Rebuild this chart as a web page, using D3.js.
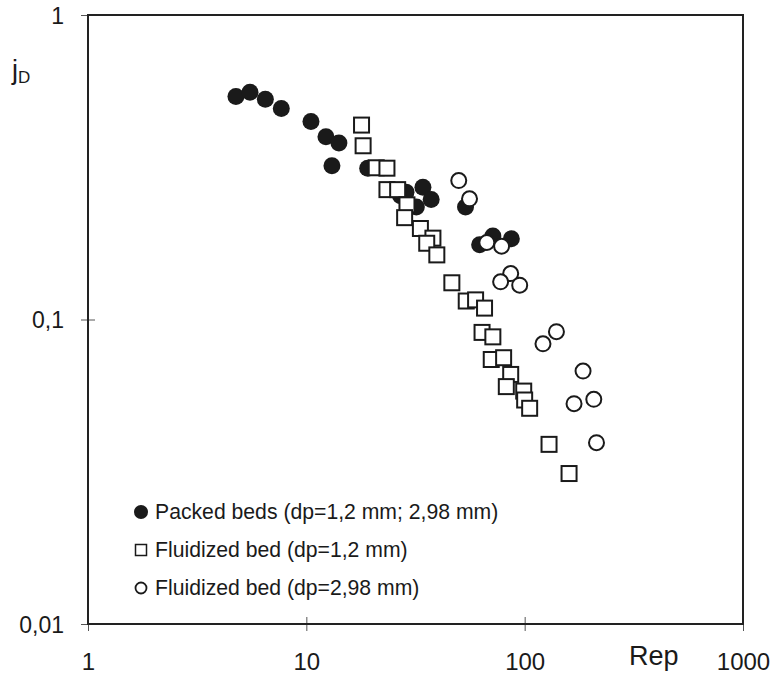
<!DOCTYPE html>
<html>
<head>
<meta charset="utf-8">
<script src="https://cdn.jsdelivr.net/npm/d3@7"></script>
<style>
  body { margin: 0; background: #fff; }
  text { font-family: "Liberation Sans", Arial, sans-serif; fill: #1a1a1a; }
</style>
</head>
<body>
<div id="chart"></div>
<script>
// packed beds (filled circles)
var packedRe = [4.76, 5.52, 6.49, 7.68, 10.5, 12.3, 14.1, 13.1, 19.1, 27.0, 28.6, 34.2, 37.3, 31.9, 53.6, 62.2, 71.5, 86.9];
var packedJ  = [0.540, 0.558, 0.529, 0.493, 0.447, 0.398, 0.380, 0.320, 0.314, 0.255, 0.262, 0.272, 0.248, 0.234, 0.234, 0.176, 0.188, 0.184];

// fluidized bed dp=1,2 mm (open squares)
var fluid12Re = [17.9, 18.2, 20.9, 23.4, 23.4, 26.2, 28.9, 28.2, 33.3, 38.0, 35.6, 39.6, 46.4, 54.0, 59.6, 65.5, 63.8, 71.5, 70.3, 80.1, 86.3, 82.4, 99.0, 100, 105.4, 129.3, 159.7];
var fluid12J  = [0.435, 0.372, 0.315, 0.314, 0.267, 0.267, 0.238, 0.216, 0.199, 0.185, 0.178, 0.163, 0.132, 0.115, 0.116, 0.109, 0.0907, 0.0877, 0.0739, 0.0749, 0.0660, 0.0602, 0.0582, 0.0544, 0.0511, 0.0389, 0.0312];

// fluidized bed dp=2,98 mm (open circles)
var fluid298Re = [49.9, 55.9, 67.1, 78.4, 86.3, 77.6, 94.9, 139.8, 121.3, 185.1, 168.3, 207.3, 213.3];
var fluid298J  = [0.286, 0.249, 0.179, 0.174, 0.1415, 0.133, 0.1296, 0.0912, 0.0832, 0.0677, 0.0529, 0.0547, 0.0394];

var xTicks = [1, 10, 100, 1000];
var xTickLabels = ["1", "10", "100", "1000"];
var yTicks = [0.01, 0.1, 1];
var yTickLabels = ["0,01", "0,1", "1"];

var legendLabels = ["Packed beds (dp=1,2 mm; 2,98 mm)", "Fluidized bed (dp=1,2 mm)", "Fluidized bed (dp=2,98 mm)"];

var W = 774, H = 676;
var margin = {left: 88, right: 743, top: 15, bottom: 624};
var ink = "#1a1a1a";

var svg = d3.select("#chart").append("svg")
    .attr("width", W)
    .attr("height", H);

var x = d3.scaleLog().domain([1, 1000]).range([margin.left, margin.right]);
var y = d3.scaleLog().domain([0.01, 1]).range([margin.bottom, margin.top]);

function zip(a, b) {
    return a.map(function (v, i) { return {x: v, y: b[i]}; });
}

// x axis (ticks cross the line)
var xAxis = svg.append("g")
    .attr("transform", "translate(0," + margin.bottom + ")")
    .call(d3.axisBottom(x).tickValues(xTicks).tickSize(7)
        .tickFormat(function (d, i) { return xTickLabels[i]; }));
xAxis.select(".domain").remove();
xAxis.selectAll(".tick line").attr("y1", -7).attr("stroke", "#555").attr("stroke-width", 1);
xAxis.selectAll(".tick text")
    .attr("y", 46).attr("dy", 0)
    .attr("font-size", 24)
    .attr("font-family", "Liberation Sans, Arial, sans-serif")
    .attr("fill", ink);

// y axis
var yAxis = svg.append("g")
    .attr("transform", "translate(" + margin.left + ",0)")
    .call(d3.axisLeft(y).tickValues(yTicks).tickSize(7)
        .tickFormat(function (d, i) { return yTickLabels[i]; }));
yAxis.select(".domain").remove();
yAxis.selectAll(".tick line").attr("x1", -7).attr("x2", 7).attr("stroke", "#555").attr("stroke-width", 1);
yAxis.selectAll(".tick text")
    .attr("x", -24).attr("dy", "0.36em")
    .attr("font-size", 23)
    .attr("font-family", "Liberation Sans, Arial, sans-serif")
    .attr("fill", ink);

// frame
svg.append("rect")
    .attr("x", margin.left).attr("y", margin.top)
    .attr("width", margin.right - margin.left).attr("height", margin.bottom - margin.top)
    .attr("fill", "none")
    .attr("stroke", "#222")
    .attr("stroke-width", 2);

// axis titles
var jd = svg.append("text").attr("x", 12).attr("y", 79).attr("font-size", 27);
jd.append("tspan").text("j");
jd.append("tspan").attr("font-size", 17).attr("dy", 4).text("D");

svg.append("text")
    .attr("x", 629).attr("y", 665)
    .attr("font-size", 27)
    .text("Rep");

// series
svg.append("g").selectAll("circle")
    .data(zip(packedRe, packedJ))
    .enter().append("circle")
    .attr("cx", function (d) { return x(d.x); })
    .attr("cy", function (d) { return y(d.y); })
    .attr("r", 8.5)
    .attr("fill", ink);

svg.append("g").selectAll("rect")
    .data(zip(fluid12Re, fluid12J))
    .enter().append("rect")
    .attr("x", function (d) { return x(d.x) - 7.5; })
    .attr("y", function (d) { return y(d.y) - 7.5; })
    .attr("width", 15)
    .attr("height", 15)
    .attr("fill", "#fff")
    .attr("stroke", ink)
    .attr("stroke-width", 2);

svg.append("g").selectAll("circle")
    .data(zip(fluid298Re, fluid298J))
    .enter().append("circle")
    .attr("cx", function (d) { return x(d.x); })
    .attr("cy", function (d) { return y(d.y); })
    .attr("r", 7.5)
    .attr("fill", "#fff")
    .attr("stroke", ink)
    .attr("stroke-width", 2);

// legend
var lg = svg.append("g");
var rowY = [512, 550, 588];
lg.append("circle").attr("cx", 141).attr("cy", rowY[0]).attr("r", 7).attr("fill", ink);
lg.append("rect").attr("x", 135.5).attr("y", rowY[1] - 5.5).attr("width", 11).attr("height", 11)
    .attr("fill", "#fff").attr("stroke", ink).attr("stroke-width", 1.5);
lg.append("circle").attr("cx", 141).attr("cy", rowY[2]).attr("r", 5.5)
    .attr("fill", "#fff").attr("stroke", ink).attr("stroke-width", 1.8);
lg.selectAll("text")
    .data(legendLabels)
    .enter().append("text")
    .attr("x", 155)
    .attr("y", function (d, i) { return rowY[i] + 7; })
    .attr("font-size", 21.2)
    .text(function (d) { return d; });
</script>
</body>
</html>
